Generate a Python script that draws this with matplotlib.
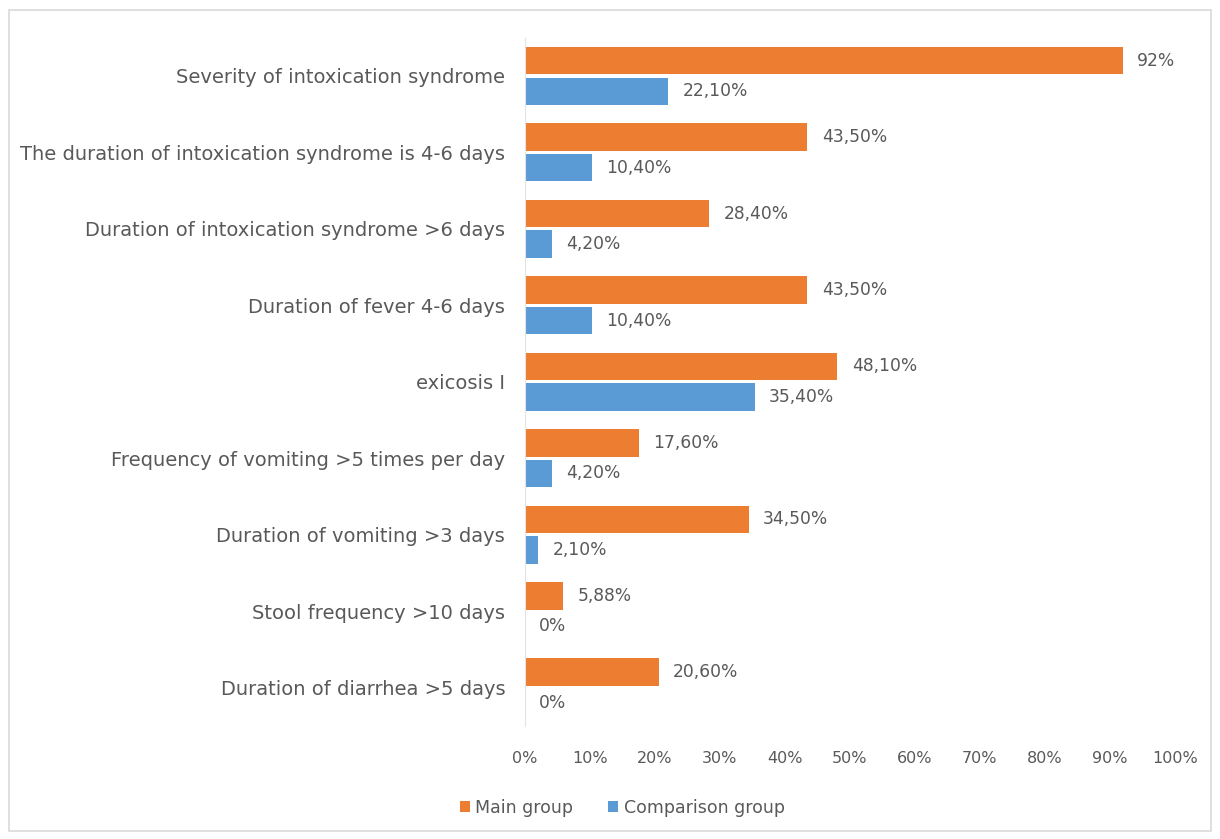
import numpy as np
import matplotlib.pyplot as plt
from matplotlib.patches import Rectangle

categories = [
    "Severity of intoxication syndrome",
    "The duration of intoxication syndrome is 4-6 days",
    "Duration of intoxication syndrome >6 days",
    "Duration of fever 4-6 days",
    "exicosis I",
    "Frequency of vomiting >5 times per day",
    "Duration of vomiting >3 days",
    "Stool frequency >10 days",
    "Duration of diarrhea >5 days",
]
main_vals = [92, 43.5, 28.4, 43.5, 48.1, 17.6, 34.5, 5.88, 20.6]
comp_vals = [22.1, 10.4, 4.2, 10.4, 35.4, 4.2, 2.1, 0, 0]
main_labels = ["92%", "43,50%", "28,40%", "43,50%", "48,10%", "17,60%", "34,50%", "5,88%", "20,60%"]
comp_labels = ["22,10%", "10,40%", "4,20%", "10,40%", "35,40%", "4,20%", "2,10%", "0%", "0%"]
xticks = np.arange(0, 101, 10)

orange = "#ED7D31"
blue = "#5B9BD5"
txt = "#595959"

plt.rcParams['font.family'] = ['DejaVu Sans']

fig = plt.figure(figsize=(12.2, 8.39), dpi=100)
fig.patches.append(Rectangle((0.007, 0.01), 0.986, 0.978, transform=fig.transFigure,
                             fill=False, edgecolor="#d9d9d9", lw=1.2))
ax = fig.add_axes([0.430, 0.135, 0.533, 0.820])

y = np.arange(len(categories))
h = 0.36
ax.barh(y - 0.2, main_vals, height=h, color=orange, label="Main group")
ax.barh(y + 0.2, comp_vals, height=h, color=blue, label="Comparison group")

for yi, v, s in zip(y, main_vals, main_labels):
    ax.text(v + 2.2, yi - 0.2, s, va="center", ha="left", fontsize=12.3, color=txt)
for yi, v, s in zip(y, comp_vals, comp_labels):
    ax.text(v + 2.2, yi + 0.2, s, va="center", ha="left", fontsize=12.3, color=txt)

ax.set_ylim(len(categories) - 0.5, -0.5)
ax.set_xlim(0, 100)
ax.set_yticks(y)
ax.set_yticklabels(categories, fontsize=14, color=txt)
ax.set_xticks(xticks)
ax.set_xticklabels([f"{t}%" for t in xticks], fontsize=11.5, color=txt)
ax.tick_params(axis="both", length=0)
ax.tick_params(axis="x", pad=18)
ax.tick_params(axis="y", pad=14)
for side in ["top", "right", "bottom"]:
    ax.spines[side].set_visible(False)
ax.spines["left"].set_color("#e3e3e3")

fig.legend(loc="center", bbox_to_anchor=(0.51, 0.037), ncol=2, frameon=False,
           fontsize=12.5, handlelength=0.6, handleheight=0.6, columnspacing=2.0,
           handletextpad=0.3, labelcolor=txt)

fig.savefig("out.png", dpi=100)
